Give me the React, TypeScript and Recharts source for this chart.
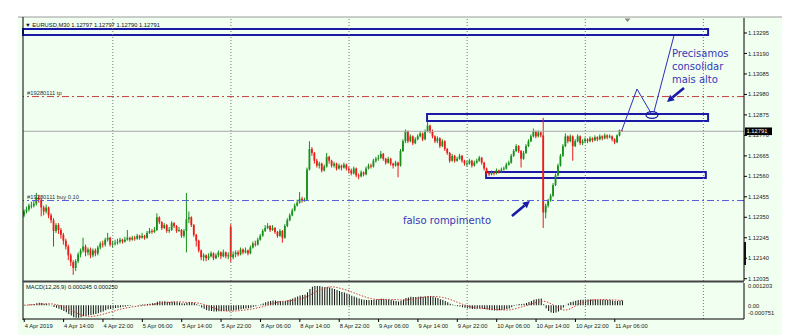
import React from 'react';
import {
  ComposedChart, Bar, Line, XAxis, YAxis, ReferenceLine, ReferenceArea, ReferenceDot,
} from 'recharts';

// EURUSD M30, 4 Apr 2019 06:00 .. 11 Apr 2019 07:30
// candle values are written as pips above 1.12000
const BASE = 1.12;
const PIP = 0.0001;
const px = (p: number) => +(BASE + p * PIP).toFixed(6);

const close4Apr = [38, 39, 41, 41, 42, 45, 44, 40, 38, 40, 36, 33.5, 28, 31, 28.5, 26, 23, 20, 15.5, 12, 9, 12.5, 16, 18, 20, 17, 18.5, 15.5, 18, 16.5, 19.5, 21.5, 21, 23.5, 24.5, 21];
const high4Apr = [39, 40.5, 42, 43, 43.5, 47.5, 46.5, 45, 41, 41.5, 40.5, 37, 34.5, 32, 32, 29.5, 27, 24, 21, 16.5, 13, 13.5, 17, 19, 24.5, 21, 19.5, 19.5, 19, 19, 20.5, 22.5, 23, 24.5, 27, 25];
const low4Apr = [35, 37, 38, 39.5, 40, 41, 42.5, 35.5, 36, 37, 34.5, 32, 20, 27, 26.5, 24, 21, 18.5, 13, 10, 5.5, 7.5, 11.5, 14.5, 17, 15, 15.5, 14, 14.5, 15, 15.5, 18.5, 19.5, 20, 22.5, 20];

const close5Apr = [21.5, 22, 22.5, 23.5, 22.5, 23.5, 24.5, 23.5, 24.5, 24, 25.5, 24.5, 25.5, 24.5, 27, 28, 27.5, 28.5, 35, 32.5, 29.5, 31, 28, 28.5, 32, 30.5, 28, 28.5, 25.5, 28, 34, 35, 31, 26, 23, 18, 14.5, 15.5, 14, 15, 16.5, 14, 15.5, 17, 15, 17, 15, 15.5];
const high5Apr = [23, 23.5, 24, 24.5, 24, 25, 28.5, 25, 25.5, 25.5, 26.5, 26, 27, 26, 28, 29.5, 29, 30, 37, 35.5, 33, 32, 31.5, 30, 33, 32.5, 31, 30, 29, 29, 47.5, 38, 35.5, 31.5, 26.5, 23.5, 18.5, 16.5, 16, 16.5, 17.5, 17, 16.5, 18, 17.5, 18.5, 17.5, 17];
const low5Apr = [19.5, 20.5, 21, 21.5, 21.5, 22, 23, 22.5, 23, 23, 23.5, 23.5, 24, 23.5, 24, 26.5, 26.5, 27, 28, 31.5, 28.5, 29, 27, 27, 28, 29.5, 27, 27.5, 24.5, 24.5, 17, 32, 30, 25, 20, 17, 13, 12.5, 12.5, 13, 14.5, 13, 13.5, 14.5, 13.5, 14.5, 14, 13.5];

const close8Apr = [14.5, 16, 17, 16, 18.5, 17, 18, 16.5, 19.5, 21.5, 21, 23.5, 25.5, 28, 29.5, 30.5, 28.5, 29.5, 27.5, 25.5, 28, 24.5, 30.5, 33.5, 36, 38.5, 41, 42.5, 44.5, 43.5, 44, 59.5, 70, 68, 64, 61.5, 62.5, 59, 61, 66, 64, 61.5, 62.5, 60, 61.5, 60.5, 62, 60];
const high8Apr = [31.5, 17.5, 18, 18, 19.5, 19, 19.5, 18.5, 20.5, 22.5, 23, 24.5, 26.5, 29, 31, 32, 31, 31, 30, 28, 29, 28.5, 31.5, 34.5, 37, 39.5, 42, 44, 48, 45.5, 45, 60.5, 74, 71, 68.5, 65, 63.5, 63, 62, 68, 66.5, 64.5, 63.5, 63, 62.5, 62, 63, 62.5];
const low8Apr = [12, 13.5, 14.5, 15, 15.5, 16, 16.5, 15.5, 16, 19, 20, 20.5, 23, 25, 27.5, 29, 27.5, 28, 26.5, 24.5, 25, 22, 24, 30, 33, 35.5, 38, 40.5, 42, 42.5, 43, 43.5, 59, 66.5, 62.5, 60.5, 60, 58, 58.5, 60.5, 62.5, 60.5, 60.5, 59, 59.5, 59, 60, 59];

const close9Apr = [59, 57.5, 60, 56.5, 56, 58, 57, 60, 61.5, 61, 64, 65, 65.5, 67.5, 65, 63, 65, 62.5, 61.5, 63, 61.5, 69, 74, 79, 74, 76.5, 73, 75, 76.5, 78, 75, 79, 82, 79, 76.5, 74, 75.5, 71.5, 74, 70, 68, 64, 66.5, 64, 65, 66.5, 64, 62.5];
const high9Apr = [61, 60, 61, 60.5, 57.5, 59, 58.5, 61, 62.5, 62.5, 65, 66, 67, 69, 68, 65.5, 66, 65.5, 63, 64, 63.5, 70, 75, 80, 79.5, 77.5, 77, 76, 77.5, 79, 78.5, 80, 84, 82.5, 80, 77, 76.5, 76, 75, 74.5, 70.5, 68.5, 67.5, 67, 66, 67.5, 67, 64.5];
const low9Apr = [57.5, 56.5, 57, 55.5, 54.5, 55.5, 56, 56.5, 59.5, 60, 60.5, 63, 64, 65, 64, 62, 62.5, 61.5, 60, 61, 55.5, 61, 68.5, 73, 73, 73.5, 72, 72.5, 74.5, 76, 74, 74.5, 78.5, 78, 75.5, 73, 73, 70.5, 71, 69, 67, 63, 63.5, 63, 63.5, 64.5, 63, 61.5];

const close10Apr = [62.5, 64, 61.5, 63, 64, 65.5, 63, 60, 58, 57, 58, 57.5, 59, 58.5, 59.5, 60, 62, 63, 66.5, 69, 71.5, 69, 65, 68, 71.5, 74, 76.5, 79, 76.5, 78.5, 77, 37.5, 41, 43.5, 46, 51.5, 56.5, 61.5, 66.5, 71.5, 76.5, 74, 76.5, 71.5, 74, 76.5, 73, 74];
const high10Apr = [64, 65, 64.5, 64, 65, 66.5, 66, 63.5, 60.5, 58.5, 59, 58.5, 60, 59.5, 60.5, 61, 63, 64, 67.5, 70, 72.5, 72, 69.5, 69, 72.5, 75, 77.5, 80.5, 79.5, 79.5, 79, 86, 42, 44.5, 47, 52.5, 57.5, 62.5, 67.5, 72.5, 78, 77, 77.5, 77, 75, 77.5, 77, 75];
const low10Apr = [61, 62, 60.5, 61, 62.5, 63.5, 62, 59, 57, 56, 56.5, 56.5, 57, 57.5, 58, 59, 59.5, 61.5, 62.5, 66, 68.5, 68, 60.5, 64.5, 67.5, 71, 73.5, 76, 75.5, 76, 76, 29.5, 34.5, 40, 43, 45.5, 51, 56, 61, 66, 71, 73, 73.5, 64, 71, 73.5, 72, 72];

const close11Apr = [75, 74, 75.5, 74.5, 76, 75, 76.5, 75.5, 77, 76, 76.5, 75, 73.5, 77, 79.7, 79.1];
const high11Apr = [76, 75.5, 76.5, 76, 77, 76.5, 77.5, 77, 78, 77.5, 77.5, 77, 75.5, 77.5, 80, 79.7];
const low11Apr = [73, 73, 73.5, 73.5, 74, 74, 74.5, 74.5, 75, 75, 75.5, 74, 72.5, 73, 76.5, 79];

// opens that differ from the previous close (first bar, Monday gap)
const firstOpens: Record<number, number> = { 0: 36, 84: 30 };

const TIME_LABELS = ['4 Apr 2019', '4 Apr 14:00', '4 Apr 22:00', '5 Apr 06:00', '5 Apr 14:00', '5 Apr 22:00', '8 Apr 06:00', '8 Apr 14:00', '8 Apr 22:00', '9 Apr 06:00', '9 Apr 14:00', '9 Apr 22:00', '10 Apr 06:00', '10 Apr 14:00', '10 Apr 22:00', '11 Apr 06:00'];
const BARS_PER_LABEL = 16;
const PRICE_TICKS = [1.13295, 1.1319, 1.13085, 1.1298, 1.12875, 1.1277, 1.12665, 1.1256, 1.12455, 1.1235, 1.12245, 1.1214, 1.12035];
const MACD_TICKS = [0.001203, 0, -0.000751];
const MACD_TEXT = ['0.001203', '0.00', '-0.000751'];

const TP_PRICE = 1.12969;
const BUY_PRICE = 1.12436;
const LAST_PRICE = 1.12791;

// drawn objects: x in bar index, y in price
const zones = [
  { x1: -0.5, x2: 277.9, y1: 1.132847, y2: 1.133155 },
  { x1: 163.7, x2: 277.9, y1: 1.128437, y2: 1.128796 },
  { x1: 187.7, x2: 277.0, y1: 1.125514, y2: 1.125822 },
];
const trendLines = [
  [{ x: 242.9, y: 1.127976 }, { x: 249.0, y: 1.130078 }],
  [{ x: 249.0, y: 1.130078 }, { x: 254.7, y: 1.128848 }],
  [{ x: 264.0, y: 1.132796 }, { x: 255.9, y: 1.128899 }],
];
const arrows = [
  [{ x: 268.1, y: 1.13013 }, { x: 261.2, y: 1.12941 }],
  [{ x: 198.2, y: 1.123566 }, { x: 205.5, y: 1.124335 }],
];
const circle = { x: 255.1, y: 1.128745 };
const notes = [
  { x: 263.2, y: 1.13172, lines: ['Precisamos', 'consolidar', 'mais alto'] },
  { x: 153.9, y: 1.123156, lines: ['falso rompimento'] },
];

const SLOTS = 293;
const P_MIN = 1.120233;
const P_MAX = 1.133719;

const days = [
  [close4Apr, high4Apr, low4Apr],
  [close5Apr, high5Apr, low5Apr],
  [close8Apr, high8Apr, low8Apr],
  [close9Apr, high9Apr, low9Apr],
  [close10Apr, high10Apr, low10Apr],
  [close11Apr, high11Apr, low11Apr],
];

type Row = { i: number; o?: number; h?: number; l?: number; c?: number; range?: number[]; macd?: number; signal?: number };
const rows: Row[] = [];
const dayStarts: number[] = [];
let prev = 0;
days.forEach(([cs, hs, ls]) => {
  if (rows.length) dayStarts.push(rows.length);
  cs.forEach((c, k) => {
    const i = rows.length;
    const o = firstOpens[i] != null ? firstOpens[i] : prev;
    rows.push({ i, o: px(o), h: px(hs[k]), l: px(ls[k]), c: px(c), range: [px(ls[k]), px(hs[k])] });
    prev = c;
  });
});
dayStarts.push(dayStarts[dayStarts.length - 1] + 48);

// MACD(12,26,9) from the closes: EMA12 - EMA26, signal = SMA9 (price units)
let e12 = rows[0].c as number;
let e26 = rows[0].c as number;
const mainLine: number[] = [];
rows.forEach(r => {
  e12 += ((r.c as number) - e12) * (2 / 13);
  e26 += ((r.c as number) - e26) * (2 / 27);
  mainLine.push(e12 - e26);
});
rows.forEach((r, k) => {
  const w = mainLine.slice(Math.max(0, k - 8), k + 1);
  r.macd = mainLine[k];
  r.signal = w.reduce((a, b) => a + b, 0) / w.length;
});
while (rows.length < SLOTS) rows.push({ i: rows.length });

const BULL = '#188e1b';
const BEAR = '#ee1a1a';
const NAVY = '#1a1aa6';
const NOTE = '#3838b8';
const FONT = '"Liberation Sans", Arial, sans-serif';

function Candle(props: any) {
  const { x, y, width, height, payload } = props;
  if (!payload || payload.o == null || !isFinite(y) || !isFinite(height)) return null;
  const { o, h, l, c } = payload;
  const top = Math.min(y, y + height);
  const hgt = Math.abs(height);
  const span = h - l || 1e-9;
  const yOf = (v: number) => top + ((h - v) / span) * hgt;
  const cx = x + width / 2;
  const color = c >= o ? BULL : BEAR;
  const bTop = yOf(Math.max(o, c));
  const bBot = yOf(Math.min(o, c));
  return (
    <g>
      <line x1={cx} x2={cx} y1={top} y2={top + hgt} stroke={color} strokeWidth={1} />
      <rect x={cx - 0.9} y={bTop} width={1.8} height={Math.max(bBot - bTop, 0.8)} fill={color} />
    </g>
  );
}

function PriceTick(props: any) {
  const { x, y, payload } = props;
  return (
    <text x={x} y={y} dy="0.35em" fontSize={5.8} fontFamily={FONT} fill="#222">
      {payload.value.toFixed(5)}
    </text>
  );
}

function MacdTick(props: any) {
  const { x, y, payload } = props;
  const k = MACD_TICKS.indexOf(payload.value);
  const dy = payload.value > 0 ? 3 : payload.value < 0 ? -6 : 1;
  return (
    <text x={x} y={y + dy} dy="0.35em" fontSize={5.8} fontFamily={FONT} fill="#222">
      {MACD_TEXT[k]}
    </text>
  );
}

function TimeTick(props: any) {
  const { x, y, payload } = props;
  const label = TIME_LABELS[payload.value / BARS_PER_LABEL];
  return (
    <g>
      <line x1={x} x2={x} y1={y} y2={y + 3} stroke="#000" strokeWidth={1} />
      <text x={x + 0.5} y={y + 9} fontSize={5.8} fontFamily={FONT} fill="#222">{label}</text>
    </g>
  );
}

function OrderTag(props: any) {
  const vb = props.viewBox || {};
  return (
    <text x={vb.x + 4} y={vb.y - 1.5} fontSize={5.8} fontFamily={FONT} fill="#333">{props.text}</text>
  );
}

function PriceTag(props: any) {
  const vb = props.viewBox || {};
  const x = vb.x + vb.width + 1;
  return (
    <g>
      <rect x={x} y={vb.y - 3.8} width={27} height={7.6} fill="#000" />
      <text x={x + 1.5} y={vb.y} dy="0.35em" fontSize={5.8} fontFamily={FONT} fill="#fff">{props.text}</text>
    </g>
  );
}

function Arrow(p: any) {
  const { x1, y1, x2, y2 } = p;
  const a = Math.atan2(y2 - y1, x2 - x1);
  const L = 7;
  const W = 3.6;
  const bx = x2 - L * Math.cos(a);
  const by = y2 - L * Math.sin(a);
  const nx = -Math.sin(a) * W;
  const ny = Math.cos(a) * W;
  return (
    <g>
      <line x1={x1} y1={y1} x2={bx} y2={by} stroke={NAVY} strokeWidth={2.6} />
      <polygon points={`${x2},${y2} ${bx + nx},${by + ny} ${bx - nx},${by - ny}`} fill={NAVY} />
    </g>
  );
}

function Note(p: any, lines: string[]) {
  return (
    <text x={p.cx} y={p.cy} fontSize={10} fontFamily='"DejaVu Sans", sans-serif' fill={NOTE}>
      {lines.map((t, k) => (
        <tspan key={k} x={p.cx} dy={k ? 13 : 0}>{t}</tspan>
      ))}
    </text>
  );
}

const MARGIN = { top: 18, right: 3, bottom: 1, left: 23 };

export default function App() {
  return (
    <div style={{ position: 'absolute', left: 0, top: 0, width: 785, height: 336, background: '#fff', overflow: 'hidden' }}>
      <div style={{ position: 'absolute', left: 18, top: 17, width: 764, height: 318, background: '#f0fff0' }} />

      <div style={{ position: 'absolute', left: 0, top: 0 }}>
        <ComposedChart width={785} height={282} data={rows} margin={MARGIN}>
          <XAxis xAxisId="bars" dataKey="i" type="category" hide />
          <XAxis xAxisId="num" dataKey="i" type="number" domain={[-0.5, SLOTS - 0.5]} allowDataOverflow hide />
          <YAxis
            yAxisId="p" orientation="right" domain={[P_MIN, P_MAX]} allowDataOverflow ticks={PRICE_TICKS}
            interval={0} width={38} tickSize={3} tickMargin={1} tick={<PriceTick />}
            axisLine={{ stroke: '#000' }} tickLine={{ stroke: '#000' }}
          />
          {dayStarts.map(d => (
            <ReferenceLine key={d} xAxisId="num" yAxisId="p" x={d} stroke="#777" strokeDasharray="1 2" />
          ))}
          <ReferenceLine xAxisId="num" yAxisId="p" y={TP_PRICE} stroke="#c44040" strokeDasharray="7 3 2 3"
            label={<OrderTag text="#19280111 tp" />} />
          <ReferenceLine xAxisId="num" yAxisId="p" y={BUY_PRICE} stroke="#5c5cdc" strokeDasharray="7 3 2 3"
            label={<OrderTag text="#19280111 buy 0.10" />} />
          <ReferenceLine xAxisId="num" yAxisId="p" y={LAST_PRICE} stroke="#a8a8a8"
            label={<PriceTag text="1.12791" />} />
          <Bar xAxisId="bars" yAxisId="p" dataKey="range" barSize={2} isAnimationActive={false}
            shape={(p: any) => <Candle {...p} />} />
          {zones.map((z, k) => (
            <ReferenceArea key={k} xAxisId="num" yAxisId="p" x1={z.x1} x2={z.x2} y1={z.y1} y2={z.y2}
              fill="none" stroke={NAVY} strokeWidth={2} />
          ))}
          {trendLines.map((s, k) => (
            <ReferenceLine key={k} xAxisId="num" yAxisId="p" segment={s} stroke="#2c2cc0" strokeWidth={1} />
          ))}
          {arrows.map((s, k) => (
            <ReferenceLine key={k} xAxisId="num" yAxisId="p" segment={s} shape={(p: any) => <Arrow {...p} />} />
          ))}
          <ReferenceDot xAxisId="num" yAxisId="p" x={circle.x} y={circle.y}
            shape={(p: any) => <ellipse cx={p.cx} cy={p.cy} rx={6} ry={3.3} fill="none" stroke={NAVY} strokeWidth={1.3} />} />
          {notes.map((n, k) => (
            <ReferenceDot key={k} xAxisId="num" yAxisId="p" x={n.x} y={n.y} shape={(p: any) => Note(p, n.lines)} />
          ))}
        </ComposedChart>
      </div>

      <div style={{ position: 'absolute', left: 0, top: 282 }}>
        <ComposedChart width={785} height={54} data={rows} margin={{ top: 1, right: 3, bottom: 2, left: 23 }}>
          <XAxis
            xAxisId="bars" dataKey="i" type="category" height={15}
            ticks={TIME_LABELS.map((_, k) => k * BARS_PER_LABEL)} interval={0}
            tick={<TimeTick />} tickLine={false} tickSize={0} tickMargin={0} axisLine={{ stroke: '#000' }}
          />
          <XAxis xAxisId="num" dataKey="i" type="number" domain={[-0.5, SLOTS - 0.5]} allowDataOverflow hide />
          <YAxis
            yAxisId="m" orientation="right" domain={[MACD_TICKS[2], MACD_TICKS[0]]} allowDataOverflow
            ticks={MACD_TICKS} interval={0} width={38} tickSize={3} tickMargin={1} tick={<MacdTick />}
            axisLine={{ stroke: '#000' }} tickLine={false}
          />
          {dayStarts.map(d => (
            <ReferenceLine key={d} xAxisId="num" yAxisId="m" x={d} stroke="#777" strokeDasharray="1 2" />
          ))}
          <Bar xAxisId="bars" yAxisId="m" dataKey="macd" fill="#111" barSize={1} isAnimationActive={false} />
          <Line xAxisId="bars" yAxisId="m" dataKey="signal" stroke="#d03838" strokeWidth={1}
            strokeDasharray="1.5 1.5" dot={false} isAnimationActive={false} />
        </ComposedChart>
      </div>

      <svg width={785} height={336} style={{ position: 'absolute', left: 0, top: 0, pointerEvents: 'none' }}>
        <line x1={18} x2={782} y1={17} y2={17} stroke="#9a9a9a" strokeWidth={1} />
        <line x1={23} x2={23} y1={17} y2={320} stroke="#000" strokeWidth={1} />
        <line x1={23} x2={744} y1={281.5} y2={281.5} stroke="#444" strokeWidth={2} />
        <rect x={744} y={242} width={2} height={23} fill="#111" />
        <polygon points="624.5,18.5 630.5,18.5 627.5,22" fill="#888" />
        <text x={25} y={26.5} fontSize={5.8} fontFamily={FONT} fill="#111">▼ EURUSD,M30  1.12797 1.12797 1.12790 1.12791</text>
        <text x={26} y={289} fontSize={5.8} fontFamily={FONT} fill="#111">MACD(12,26,9) 0.000245 0.000250</text>
      </svg>
    </div>
  );
}
